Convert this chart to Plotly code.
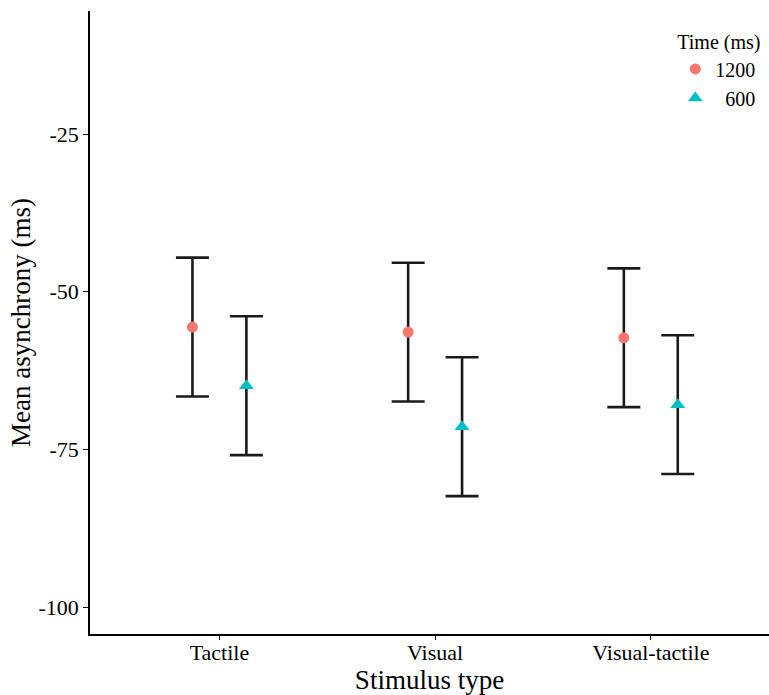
import plotly.graph_objects as go

# Data
categories = ["Tactile", "Visual", "Visual-tactile"]
mean_1200 = [-55.6, -56.4, -57.3]
se_1200 = [11.0, 11.0, 11.0]
mean_600 = [-64.9, -71.4, -67.9]
se_600 = [11.0, 11.0, 11.0]
group_names = ["1200", "\u00a0\u00a0600"]
y_tickvals = [-100, -75, -50, -25]
y_ticktext = ["-100", "-75", "-50", "-25"]

dodge = 0.125
xpos = list(range(1, len(categories) + 1))

FONT = "Times New Roman, Liberation Serif, serif"

fig = go.Figure()
fig.add_trace(go.Scatter(
    x=[p - dodge for p in xpos], y=mean_1200, mode="markers", name=group_names[0],
    marker=dict(symbol="circle", size=11, color="#F8766D"),
    error_y=dict(type="data", array=se_1200, symmetric=True, color="#1a1a1a",
                 thickness=2.6, width=16.5),
))
fig.add_trace(go.Scatter(
    x=[p + dodge for p in xpos], y=mean_600, mode="markers", name=group_names[1],
    marker=dict(symbol="triangle-up", size=13, color="#00BFC4"),
    error_y=dict(type="data", array=se_600, symmetric=True, color="#1a1a1a",
                 thickness=2.6, width=16.5),
))

fig.update_layout(
    width=769, height=695,
    margin=dict(l=89.5, r=0, t=11, b=61, pad=0),
    paper_bgcolor="white", plot_bgcolor="white",
    font=dict(family=FONT, color="black", size=20),
    showlegend=True,
    legend=dict(
        title=dict(text="Time (ms)", font=dict(size=20, family=FONT)),
        font=dict(size=20, family=FONT),
        x=0.862, xanchor="left", y=0.98, yanchor="top",
        xref="paper", yref="paper",
        bgcolor="rgba(0,0,0,0)", tracegroupgap=0, itemsizing="trace",
    ),
    xaxis=dict(
        range=[0.4, 3.548], tickmode="array", tickvals=xpos, ticktext=categories,
        showgrid=False, zeroline=False, showline=True, linecolor="black", linewidth=1.6,
        ticks="outside", ticklen=4, tickwidth=1.2, tickcolor="black",
        tickfont=dict(size=22, family=FONT, color="black"),
        ticklabelstandoff=-6, automargin=False,
        title=dict(text="Stimulus type", font=dict(size=27, family=FONT, color="black"), standoff=2),
    ),
    yaxis=dict(
        range=[-104.26, -5.5], tickmode="array", tickvals=y_tickvals, ticktext=y_ticktext,
        showgrid=False, zeroline=False, showline=True, linecolor="black", linewidth=1.6,
        ticks="outside", ticklen=5, tickwidth=1.2, tickcolor="black",
        tickfont=dict(size=22, family=FONT, color="black"),
        automargin=False,
        title=dict(text="Mean asynchrony (ms)", font=dict(size=27, family=FONT, color="black"), standoff=0),
    ),
)

fig.write_html("out.html")
